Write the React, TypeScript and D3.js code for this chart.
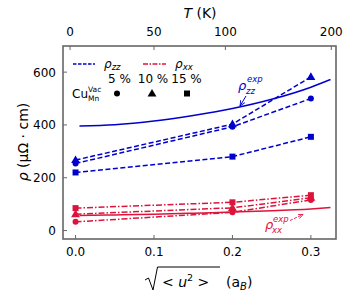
import React from "react";
import * as d3 from "d3";

// displacement values (a_B) where calculations were done
const displacements = [0, 0.2, 0.3];
const vacancyLabels = ["5 %", "10 %", "15 %"];
const markerShapes = ["circle", "triangle", "square"];

// calculated resistivities (μΩ·cm)
const rhoZZ = [
  [254, 393, 500],
  [267, 403, 582],
  [220, 280, 355],
];
const rhoXX = [
  [33, 69, 116],
  [62, 86, 124],
  [85, 107, 134],
];

// experimental curves
const expU = [0.005, 0.05, 0.1, 0.15, 0.2, 0.25, 0.3, 0.325];
const expZZ = [396, 401, 415, 436, 462, 497, 543, 572];
const expXX = [57, 59, 62, 66, 70, 75, 82, 87];

// ticks
const xTicks = [0, 0.1, 0.2, 0.3];
const yTicks = [0, 200, 400, 600];
const tempTicks = [0, 50, 100, 200];
const tempTickPos = [-0.007, 0.1, 0.191, 0.326];

const BLUE = "#0000cd";
const RED = "#dc143c";
const FRAME = "#666";
const FONT = "DejaVu Sans";

const W = 350;
const H = 300;
const L = 63, R = 336, T = 46, B = 239;

const x = d3.scaleLinear().domain([-0.016, 0.332]).range([L, R]);
const y = d3.scaleLinear().domain([-32, 699]).range([B, T]);

function Marker({ shape, cx, cy, color }: { shape: string; cx: number; cy: number; color: string }) {
  if (shape === "circle") return <circle cx={cx} cy={cy} r={3} fill={color} />;
  if (shape === "square") return <rect x={cx - 3} y={cy - 3} width={6} height={6} fill={color} />;
  const p = d3.symbol(d3.symbolTriangle, 34)();
  return <path d={p || ""} transform={`translate(${cx},${cy + 0.5})`} fill={color} />;
}

export default function App() {
  const line = d3.line<[number, number]>().x(d => x(d[0])).y(d => y(d[1]));
  const curve = d3.line<[number, number]>().x(d => x(d[0])).y(d => y(d[1])).curve(d3.curveMonotoneX);
  const dash = "5,2.5";
  const dashDot = "6,2,1.5,2";

  return (
    <svg width={W} height={H} style={{ position: "absolute", left: 0, top: 0 }} fontFamily={FONT}>
      <defs>
        <marker id="arrB" viewBox="0 0 10 10" refX="9" refY="5" markerWidth="6" markerHeight="6" orient="auto-start-reverse">
          <path d="M0,1 L9,5 L0,9" fill="none" stroke={BLUE} strokeWidth="1.5" />
        </marker>
        <marker id="arrR" viewBox="0 0 10 10" refX="9" refY="5" markerWidth="6" markerHeight="6" orient="auto-start-reverse">
          <path d="M0,1 L9,5 L0,9" fill="none" stroke={RED} strokeWidth="1.5" />
        </marker>
      </defs>
      <rect width={W} height={H} fill="white" />

      {/* experimental curves */}
      <path d={curve(expU.map((u, i) => [u, expZZ[i]]) as [number, number][]) || ""} fill="none" stroke={BLUE} strokeWidth={1.5} />
      <path d={curve(expU.map((u, i) => [u, expXX[i]]) as [number, number][]) || ""} fill="none" stroke={RED} strokeWidth={1.5} />

      {/* calculated rho_zz */}
      {rhoZZ.map((s, k) => (
        <g key={"zz" + k}>
          <path d={line(displacements.map((u, i) => [u, s[i]]) as [number, number][]) || ""} fill="none" stroke={BLUE} strokeWidth={1.5} strokeDasharray={dash} />
          {displacements.map((u, i) => (
            <Marker key={i} shape={markerShapes[k]} cx={x(u)} cy={y(s[i])} color={BLUE} />
          ))}
        </g>
      ))}
      {/* calculated rho_xx */}
      {rhoXX.map((s, k) => (
        <g key={"xx" + k}>
          <path d={line(displacements.map((u, i) => [u, s[i]]) as [number, number][]) || ""} fill="none" stroke={RED} strokeWidth={1.5} strokeDasharray={dashDot} />
          {displacements.map((u, i) => (
            <Marker key={i} shape={markerShapes[k]} cx={x(u)} cy={y(s[i])} color={RED} />
          ))}
        </g>
      ))}

      {/* annotations */}
      <text x={238} y={90} fill={BLUE} fontSize={13} fontStyle="italic">ρ</text>
      <text x={247} y={82} fill={BLUE} fontSize={8.5} fontStyle="italic">exp</text>
      <text x={246} y={94} fill={BLUE} fontSize={8.5} fontStyle="italic">zz</text>
      <line x1={246} y1={96} x2={240} y2={106} stroke={BLUE} strokeWidth={1} markerEnd="url(#arrB)" />

      <text x={265} y={229} fill={RED} fontSize={13} fontStyle="italic">ρ</text>
      <text x={273} y={222} fill={RED} fontSize={8.5} fontStyle="italic">exp</text>
      <text x={272} y={233} fill={RED} fontSize={8.5} fontStyle="italic">xx</text>
      <line x1={290} y1={220.5} x2={303} y2={214.5} stroke={RED} strokeWidth={0.9} strokeDasharray="3,1.5" markerEnd="url(#arrR)" />

      {/* legend */}
      <line x1={73} x2={95} y1={64} y2={64} stroke={BLUE} strokeWidth={1.3} strokeDasharray="3.5,1.5" />
      <text x={104} y={68} fontSize={12} fontStyle="italic">ρ<tspan fontSize={8.5} dy={2}>zz</tspan></text>
      <line x1={143} x2={166} y1={64} y2={64} stroke={RED} strokeWidth={1.3} strokeDasharray="5,1.5,1.5,1.5" />
      <text x={175} y={68} fontSize={12} fontStyle="italic">ρ<tspan fontSize={8.5} dy={2}>xx</tspan></text>
      {vacancyLabels.map((lab, i) => (
        <text key={lab} x={119.5 + i * 33.5} y={83} fontSize={12} textAnchor="middle">{lab}</text>
      ))}
      <text x={72} y={98} fontSize={12}>Cu</text>
      <text x={88} y={92} fontSize={7.5}>Vac</text>
      <text x={88} y={101} fontSize={7.5}>Mn</text>
      {markerShapes.map((s, i) => (
        <Marker key={s} shape={s} cx={117 + i * 35} cy={93.5} color="black" />
      ))}

      {/* frame */}
      <rect x={L} y={T} width={R - L} height={B - T} fill="none" stroke={FRAME} strokeWidth={1.6} />

      {/* bottom axis */}
      {xTicks.map(t => (
        <g key={"xt" + t}>
          <line x1={x(t)} x2={x(t)} y1={B} y2={B - 4} stroke={FRAME} strokeWidth={1} />
          <text x={x(t)} y={256} fontSize={12} textAnchor="middle">{t.toFixed(1)}</text>
        </g>
      ))}
      {/* top axis (temperature) */}
      {tempTicks.map((t, i) => (
        <g key={"tt" + t}>
          <line x1={x(tempTickPos[i])} x2={x(tempTickPos[i])} y1={T} y2={T + 4} stroke={FRAME} strokeWidth={1} />
          <text x={x(tempTickPos[i])} y={36} fontSize={12} textAnchor="middle">{t}</text>
        </g>
      ))}
      {/* left axis */}
      {yTicks.map(t => (
        <g key={"yt" + t}>
          <line x1={L} x2={L + 4} y1={y(t)} y2={y(t)} stroke={FRAME} strokeWidth={1} />
          <text x={56} y={y(t) + 4.5} fontSize={12} textAnchor="end">{t}</text>
        </g>
      ))}

      {/* axis titles */}
      <text x={200} y={18} fontSize={14} textAnchor="middle"><tspan fontStyle="italic">T</tspan> (K)</text>
      <text transform="translate(28,142) rotate(-90)" fontSize={14} textAnchor="middle">
        <tspan fontStyle="italic">ρ</tspan> (μΩ · cm)
      </text>
      <path d="M145,280 L148.5,278 L153,290 L157.5,267 L220,267" fill="none" stroke="black" strokeWidth={1} />
      <text x={162} y={287} fontSize={14}>&lt; <tspan fontStyle="italic">u</tspan><tspan fontSize={9.5} dy={-6}>2</tspan><tspan dy={6}> &gt;</tspan></text>
      <text x={226} y={287} fontSize={14}>(a<tspan fontSize={10} fontStyle="italic" dy={3}>B</tspan><tspan dy={-3}>)</tspan></text>
    </svg>
  );
}
